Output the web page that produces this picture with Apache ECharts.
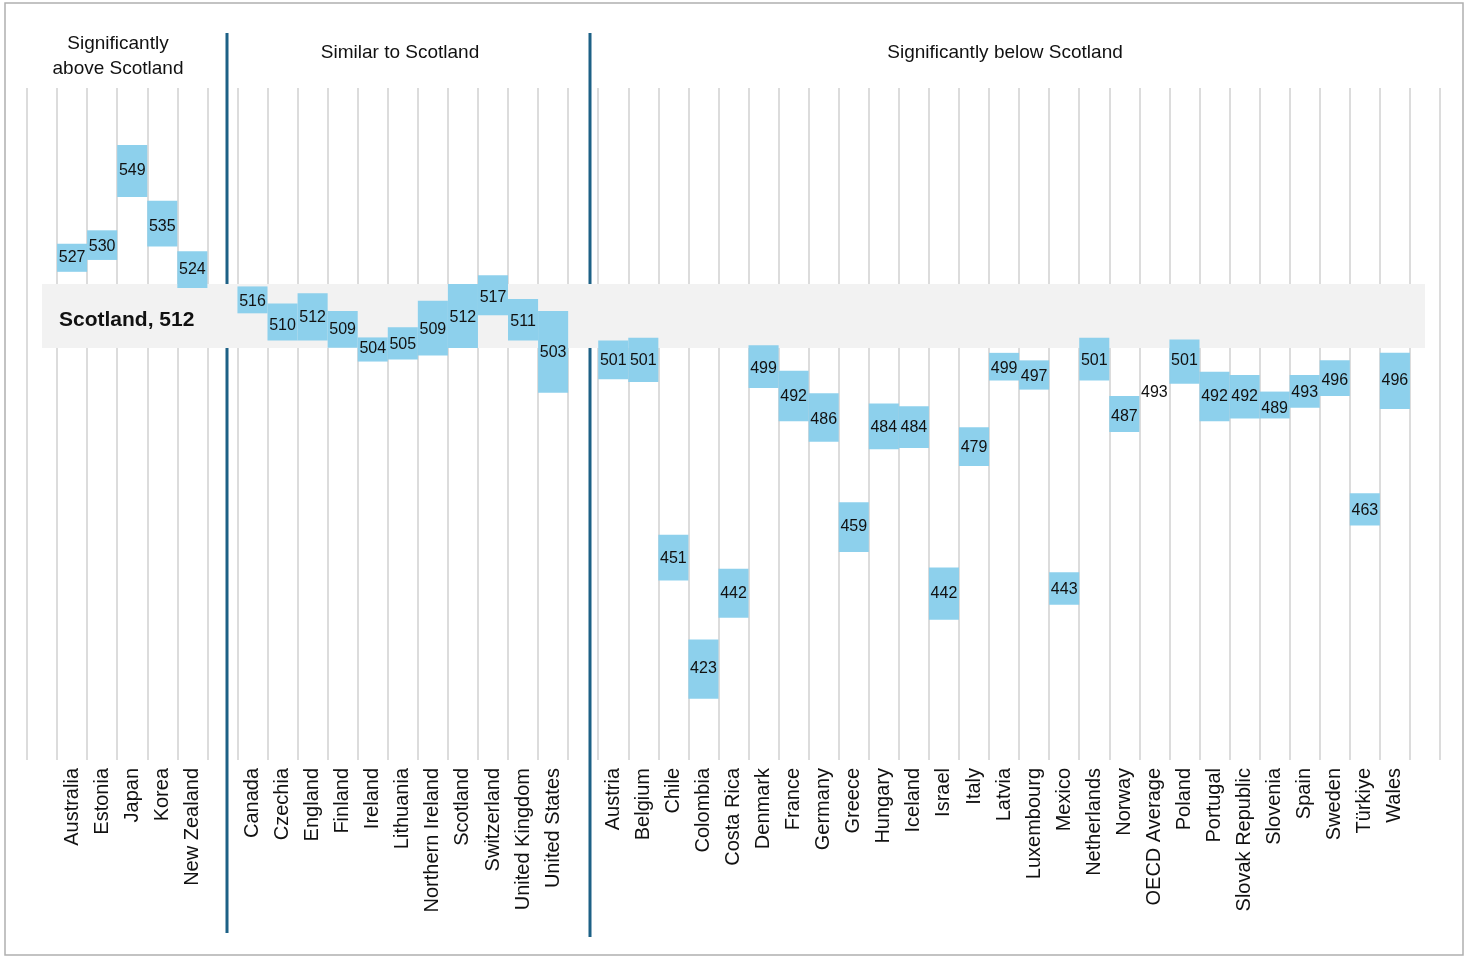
<!DOCTYPE html>
<html><head><meta charset="utf-8">
<script src="https://cdn.jsdelivr.net/npm/echarts@6/dist/echarts.min.js"></script>
<style>html,body{margin:0;padding:0;background:#fff}#c{width:1476px;height:964px}</style>
</head><body><div id="c"></div>
<script>
const groupAbove = ['Australia','Estonia','Japan','Korea','New Zealand'];
const groupSimilar = ['Canada','Czechia','England','Finland','Ireland','Lithuania','Northern Ireland','Scotland','Switzerland','United Kingdom','United States'];
const groupBelow = ['Austria','Belgium','Chile','Colombia','Costa Rica','Denmark','France','Germany','Greece','Hungary','Iceland','Israel','Italy','Latvia','Luxembourg','Mexico','Netherlands','Norway','OECD Average','Poland','Portugal','Slovak Republic','Slovenia','Spain','Sweden','Türkiye','Wales'];
const means = {
 'Australia':527,'Estonia':530,'Japan':549,'Korea':535,'New Zealand':524,
 'Canada':516,'Czechia':510,'England':512,'Finland':509,'Ireland':504,'Lithuania':505,'Northern Ireland':509,'Scotland':512,'Switzerland':517,'United Kingdom':511,'United States':503,
 'Austria':501,'Belgium':501,'Chile':451,'Colombia':423,'Costa Rica':442,'Denmark':499,'France':492,'Germany':486,'Greece':459,'Hungary':484,'Iceland':484,'Israel':442,'Italy':479,'Latvia':499,'Luxembourg':497,'Mexico':443,'Netherlands':501,'Norway':487,'OECD Average':493,'Poland':501,'Portugal':492,'Slovak Republic':492,'Slovenia':489,'Spain':493,'Sweden':496,'Türkiye':463,'Wales':496
};
const lowers = {
 'Australia':523.5,'Estonia':526.5,'Japan':542.4,'Korea':529.9,'New Zealand':519.4,
 'Canada':513.0,'Czechia':506.1,'England':506.1,'Finland':504.3,'Ireland':500.8,'Lithuania':501.3,'Northern Ireland':502.3,'Scotland':504.2,'Switzerland':512.5,'United Kingdom':506.1,'United States':492.9,
 'Austria':496.3,'Belgium':495.6,'Chile':445.4,'Colombia':415.5,'Costa Rica':436.0,'Denmark':494.1,'France':485.7,'Germany':480.5,'Greece':452.6,'Hungary':478.6,'Iceland':478.9,'Israel':435.5,'Italy':474.4,'Latvia':496.0,'Luxembourg':493.7,'Mexico':439.3,'Netherlands':496.0,'Norway':483.0,'OECD Average':null,'Poland':495.2,'Portugal':485.7,'Slovak Republic':486.4,'Slovenia':486.4,'Spain':489.1,'Sweden':492.1,'Türkiye':459.3,'Wales':488.8
};
const uppers = {
 'Australia':530.6,'Estonia':534.0,'Japan':555.6,'Korea':541.5,'New Zealand':528.7,
 'Canada':519.8,'Czechia':515.5,'England':518.1,'Finland':513.6,'Ireland':506.9,'Lithuania':509.5,'Northern Ireland':516.2,'Scotland':520.4,'Switzerland':522.6,'United Kingdom':516.6,'United States':513.6,
 'Austria':506.1,'Belgium':506.8,'Chile':457.0,'Colombia':430.5,'Costa Rica':448.4,'Denmark':504.9,'France':498.5,'Germany':492.8,'Greece':465.2,'Hungary':490.2,'Iceland':489.5,'Israel':448.7,'Italy':484.2,'Latvia':503.0,'Luxembourg':501.1,'Mexico':447.5,'Netherlands':506.8,'Norway':492.1,'OECD Average':null,'Poland':506.4,'Portugal':498.2,'Slovak Republic':497.4,'Slovenia':493.2,'Spain':497.4,'Sweden':501.1,'Türkiye':467.5,'Wales':503.0
};
const scotlandBand = [504.2, 520.4];
const scotlandLabel = 'Scotland, 512';
const groupTitles = ['Significantly\nabove Scotland','Similar to Scotland','Significantly below Scotland'];

// axis categories with blank spacer slots
const axisCats = ['_s0', ...groupAbove, '_s1', ...groupSimilar, '_s2', ...groupBelow, '_s3'];
const data = axisCats.map((c,i)=> c.startsWith('_s') ? null : [i, lowers[c], uppers[c], means[c]]).filter(d=>d);

const chart = echarts.init(document.getElementById('c'));
const FONT = '"Liberation Sans", Arial, sans-serif';
chart.setOption({
  animation:false,
  grid:{left:27,right:36,top:88,bottom:204},
  xAxis:{type:'category',data:axisCats,boundaryGap:true,
    axisLine:{show:false},axisTick:{show:false},
    splitLine:{show:true,lineStyle:{color:'#dcdcdc',width:2}},
    axisLabel:{rotate:90,interval:0,fontSize:20,color:'#111',fontFamily:FONT,margin:8,
      formatter:v=>v.startsWith('_s')?'':v}},
  yAxis:{type:'value',min:400,max:570,show:false,splitLine:{show:false}},
  series:[{
    type:'custom',
    data:data,
    encode:{x:0,y:[1,2,3]},
    markArea:{silent:true,itemStyle:{color:'#f2f2f2'},
      data:[[{yAxis:scotlandBand[0],x:42},{yAxis:scotlandBand[1],x:1425}]]},
    renderItem:function(params,api){
      const idx=api.value(0), lo=api.value(1), hi=api.value(2), m=api.value(3);
      const w=api.size([1,0])[0];
      const children=[];
      if(!isNaN(lo) && !isNaN(hi) && lo!=null){
        const p1=api.coord([idx,hi]), p2=api.coord([idx,lo]);
        children.push({type:'rect',shape:{x:p1[0]-w/2,y:p1[1],width:w,height:p2[1]-p1[1]},
          style:{fill:'#87ceeb',opacity:0.95}});
      }
      const pm=api.coord([idx,m]);
      children.push({type:'text',style:{text:String(m),x:pm[0],y:pm[1],align:'center',verticalAlign:'middle',
        fontSize:16,fill:'#111',fontFamily:FONT}});
      return {type:'group',children:children};
    }
  }],
  graphic:[
    {type:'rect',shape:{x:5,y:3,width:1458,height:952},style:{fill:'none',stroke:'#b0b0b0',lineWidth:1.5},silent:true},
    {type:'line',shape:{x1:227,y1:33,x2:227,y2:933},style:{stroke:'#1d6186',lineWidth:3}},
    {type:'line',shape:{x1:590,y1:33,x2:590,y2:937},style:{stroke:'#1d6186',lineWidth:3}},
    {type:'text',style:{text:groupTitles[0],x:118,y:56,align:'center',verticalAlign:'middle',fontSize:19,lineHeight:25,fill:'#111',fontFamily:FONT}},
    {type:'text',style:{text:groupTitles[1],x:400,y:53,align:'center',verticalAlign:'middle',fontSize:19,fill:'#111',fontFamily:FONT}},
    {type:'text',style:{text:groupTitles[2],x:1005,y:53,align:'center',verticalAlign:'middle',fontSize:19,fill:'#111',fontFamily:FONT}},
    {type:'text',z:10,style:{text:scotlandLabel,x:59,y:320,verticalAlign:'middle',fontSize:21,fontWeight:'bold',fill:'#111',fontFamily:FONT}}
  ]
});
</script></body></html>
